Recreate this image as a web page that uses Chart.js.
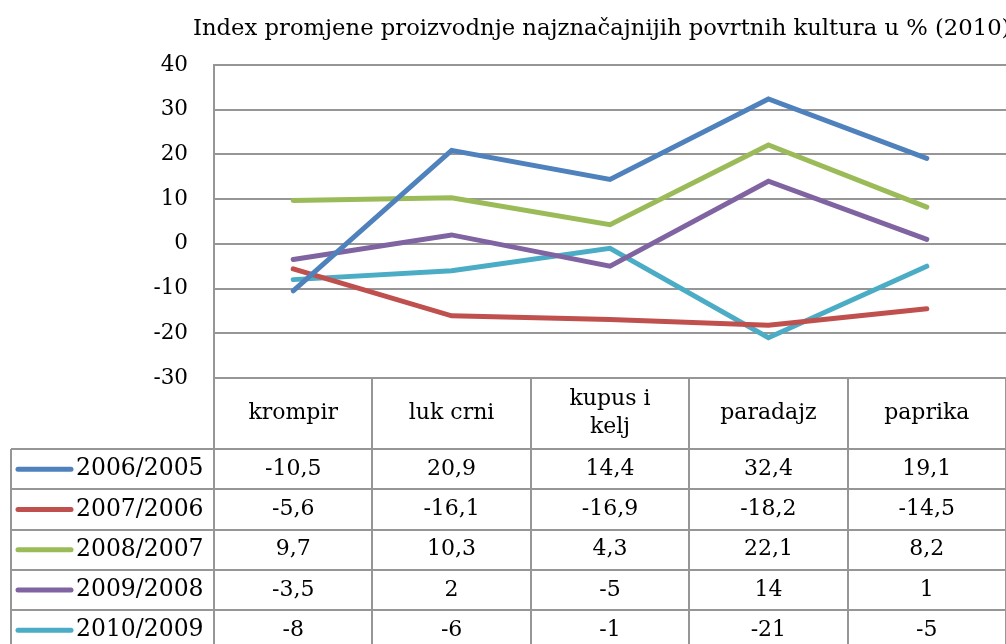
<!DOCTYPE html>
<html>
<head>
<meta charset="utf-8">
<script src="https://cdn.jsdelivr.net/npm/chart.js@4/dist/chart.umd.min.js"></script>
<style>
  html, body { margin:0; padding:0; background:#fff; }
  #wrap { width:1006px; height:644px; position:relative; }
</style>
</head>
<body>
<div id="wrap"><canvas id="chart"></canvas></div>
<script>
// chart data
const title = 'Index promjene proizvodnje najznačajnijih povrtnih kultura u % (2010)';
const categories = ['krompir', 'luk crni', 'kupus i\nkelj', 'paradajz', 'paprika'];
const seriesNames = ['2006/2005', '2007/2006', '2008/2007', '2009/2008', '2010/2009'];
const s2006 = [-10.5, 20.9, 14.4, 32.4, 19.1];
const s2007 = [-5.6, -16.1, -16.9, -18.2, -14.5];
const s2008 = [9.7, 10.3, 4.3, 22.1, 8.2];
const s2009 = [-3.5, 2, -5, 14, 1];
const s2010 = [-8, -6, -1, -21, -5];
const yTicks = { min: -30, max: 40, step: 10 };
const colors = ['#4F81BD', '#C0504D', '#9BBB59', '#8064A2', '#4BACC6'];

const FONT = 'DejaVu Serif';
const GRID = '#969696';
const allSeries = [s2006, s2007, s2008, s2009, s2010];

// title + data table under the plot
const tablePlugin = {
  id: 'tablePlugin',
  afterDraw(chart){
    const ctx = chart.ctx;
    const ca = chart.chartArea;
    const x = chart.scales.x;
    const n = categories.length;
    const colW = (ca.right - ca.left) / n;
    const headTop = ca.bottom;
    const headBot = headTop + 71;
    const rowH = 40.3;
    const legLeft = 11;
    const H = chart.height;

    ctx.save();
    // title
    ctx.fillStyle = '#000';
    ctx.font = '22.7px "' + FONT + '"';
    ctx.textAlign = 'left';
    ctx.textBaseline = 'alphabetic';
    ctx.fillText(title, 193, 35);

    // grid lines of the table
    ctx.strokeStyle = GRID;
    ctx.lineWidth = 2;
    ctx.beginPath();
    for(let i=0;i<=n;i++){
      const px = Math.round(ca.left + i*colW);
      ctx.moveTo(px, headTop);
      ctx.lineTo(px, H);
    }
    ctx.moveTo(legLeft, headBot);
    ctx.lineTo(legLeft, H);
    for(let r=0;r<=seriesNames.length;r++){
      const py = Math.round(headBot + r*rowH);
      ctx.moveTo(legLeft, py);
      ctx.lineTo(ca.right, py);
    }
    ctx.stroke();

    // header
    ctx.fillStyle = '#000';
    ctx.font = '22px "' + FONT + '"';
    ctx.textAlign = 'center';
    ctx.textBaseline = 'middle';
    categories.forEach((c,i)=>{
      const cx = x.getPixelForValue(i);
      const lines = c.split('\n');
      const cy = (headTop + headBot)/2;
      lines.forEach((ln,k)=>{
        ctx.fillText(ln, cx, cy + (k - (lines.length-1)/2)*28);
      });
    });

    // rows
    seriesNames.forEach((name,r)=>{
      const cy = headBot + r*rowH + rowH/2;
      ctx.strokeStyle = colors[r];
      ctx.lineWidth = 5;
      ctx.lineCap = 'round';
      ctx.beginPath();
      ctx.moveTo(18, cy);
      ctx.lineTo(71, cy);
      ctx.stroke();
      ctx.textAlign = 'left';
      ctx.font = '23.5px "' + FONT + '"';
      ctx.fillText(name, 76, cy);
      ctx.textAlign = 'center';
      ctx.font = '22px "' + FONT + '"';
      allSeries[r].forEach((v,i)=>{
        ctx.fillText(String(v).replace('.', ','), x.getPixelForValue(i), cy);
      });
    });
    ctx.restore();
  }
};

new Chart(document.getElementById('chart'), {
  type: 'line',
  data: {
    labels: categories,
    datasets: seriesNames.map((name,i)=>({
      label: name,
      data: allSeries[i],
      borderColor: colors[i],
      backgroundColor: colors[i],
      borderWidth: 5,
      borderCapStyle: 'round',
      borderJoinStyle: 'miter',
      pointRadius: 0,
      tension: 0,
      fill: false
    }))
  },
  options: {
    responsive: true,
    maintainAspectRatio: false,
    animation: false,
    layout: { padding: { top: 65, bottom: 266, left: 0, right: 0 } },
    plugins: { legend: { display: false }, title: { display: false }, tooltip: { enabled: false } },
    scales: {
      x: { display: false, offset: true },
      y: {
        min: yTicks.min, max: yTicks.max,
        afterFit: s => { s.width = 214; },
        ticks: { stepSize: yTicks.step, color: '#000', padding: 26, font: { family: FONT, size: 21.5 } },
        grid: { color: GRID, lineWidth: 2, drawTicks: false },
        border: { display: true, color: GRID, width: 2 }
      }
    }
  },
  plugins: [tablePlugin]
});
</script>
</body>
</html>
